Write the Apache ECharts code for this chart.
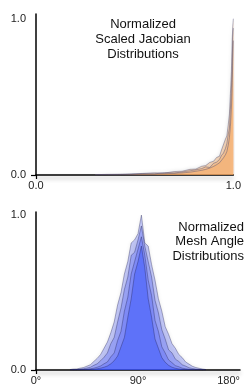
<!DOCTYPE html>
<html>
<head>
<meta charset="utf-8">
<script src="https://cdn.jsdelivr.net/npm/echarts@6/dist/echarts.min.js"></script>
<style>
  html, body { margin: 0; padding: 0; background: #fff; }
  #chart { width: 244px; height: 391px; }
</style>
</head>
<body>
<div id="chart"></div>
<script>
// scaled jacobian histograms (bin -> normalized count)
var jacobianBins = [0.30, 0.36, 0.42, 0.48, 0.54, 0.60, 0.65, 0.70, 0.74, 0.78, 0.81, 0.84, 0.86, 0.88,
  0.90, 0.915, 0.93, 0.94, 0.95, 0.96, 0.967, 0.974, 0.98, 0.985, 0.99, 0.994, 0.997, 1.0]
var jacobianA = [0.002, 0.004, 0.003, 0.007, 0.010, 0.014, 0.012, 0.022, 0.024, 0.036, 0.038, 0.056, 0.060, 0.080,
  0.088, 0.112, 0.12, 0.16, 0.17, 0.23, 0.25, 0.32, 0.39, 0.52, 0.66, 0.86, 0.95, 1.0]
var jacobianB = [0.001, 0.003, 0.005, 0.004, 0.008, 0.007, 0.015, 0.013, 0.019, 0.027, 0.033, 0.041, 0.052, 0.048,
  0.075, 0.082, 0.10, 0.125, 0.14, 0.17, 0.20, 0.26, 0.30, 0.42, 0.55, 0.70, 0.88, 0.94]
var jacobianC = [0.001, 0.002, 0.002, 0.004, 0.005, 0.006, 0.008, 0.011, 0.013, 0.018, 0.024, 0.030, 0.036, 0.044,
  0.055, 0.066, 0.078, 0.090, 0.110, 0.13, 0.15, 0.19, 0.24, 0.31, 0.42, 0.56, 0.74, 0.86]

// mesh angle histograms (degrees -> normalized count)
var angleBins = [30, 33, 36, 39, 42, 45, 48, 51, 54, 57, 60, 63, 66, 69, 72, 75, 78, 81, 84, 87,
  90, 93, 96, 99, 102, 105, 108, 111, 114, 117, 120, 123, 126, 129, 132, 135, 138, 141, 144, 147, 150]
var angleWide = [0.003, 0.006, 0.007, 0.012, 0.016, 0.025, 0.034, 0.055, 0.075, 0.10, 0.14, 0.18, 0.24, 0.31, 0.42, 0.50, 0.62, 0.70, 0.82, 0.84,
  0.88, 1.0, 0.82, 0.80, 0.68, 0.58, 0.46, 0.38, 0.28, 0.23, 0.17, 0.14, 0.10, 0.08, 0.052, 0.038, 0.024, 0.016, 0.011, 0.006, 0.003]
var angleMid = [0, 0.002, 0.003, 0.006, 0.008, 0.013, 0.018, 0.030, 0.040, 0.060, 0.082, 0.11, 0.17, 0.21, 0.31, 0.40, 0.52, 0.60, 0.74, 0.76,
  0.84, 0.93, 0.80, 0.70, 0.60, 0.45, 0.37, 0.26, 0.20, 0.13, 0.11, 0.07, 0.055, 0.034, 0.025, 0.015, 0.010, 0.006, 0.004, 0.002, 0]
var angleNarrow = [0, 0, 0.001, 0.002, 0.003, 0.005, 0.008, 0.012, 0.018, 0.026, 0.040, 0.052, 0.085, 0.11, 0.19, 0.25, 0.38, 0.47, 0.62, 0.70,
  0.78, 0.86, 0.74, 0.58, 0.48, 0.32, 0.25, 0.15, 0.11, 0.065, 0.047, 0.028, 0.021, 0.012, 0.008, 0.005, 0.003, 0.002, 0.001, 0, 0]
var angleCore = [0, 0, 0, 0, 0.001, 0.002, 0.003, 0.005, 0.008, 0.012, 0.018, 0.026, 0.04, 0.06, 0.09, 0.15, 0.21, 0.34, 0.46, 0.62,
  0.70, 0.80, 0.66, 0.46, 0.34, 0.20, 0.14, 0.08, 0.05, 0.03, 0.018, 0.011, 0.007, 0.004, 0.002, 0.001, 0, 0, 0, 0, 0]

var jacobianTicks = [0, 1]
var angleTicks = [0, 90, 180]

var font = 'Liberation Sans, Arial, sans-serif'

function pairs(xs, ys) {
  return xs.map(function(x, i) { return [x, ys[i]] })
}

function hist(name, idx, xs, ys, fill, stroke, shadow) {
  return {
    name: name,
    type: 'line',
    xAxisIndex: idx,
    yAxisIndex: idx,
    symbol: 'none',
    silent: true,
    animation: false,
    data: pairs(xs, ys),
    lineStyle: { color: stroke, width: 0.7 },
    areaStyle: {
      color: fill,
      shadowBlur: shadow ? 4 : 0,
      shadowColor: 'rgba(0,0,0,0.35)'
    }
  }
}

function xAxis(idx, max, ticks, fmt) {
  return {
    type: 'value',
    gridIndex: idx,
    min: 0,
    max: max,
    splitLine: { show: false },
    axisLine: {
      lineStyle: { color: '#000', width: 1.5, shadowColor: 'rgba(0,0,0,0.3)', shadowBlur: 4, shadowOffsetY: 3 }
    },
    axisTick: { customValues: [0], length: 4, lineStyle: { color: '#000', width: 1.2 } },
    axisLabel: {
      customValues: ticks,
      formatter: fmt,
      color: '#222',
      fontSize: 11,
      fontFamily: font,
      margin: 5,
      alignMaxLabel: idx === 1 ? 'right' : null
    }
  }
}

function yAxis(idx, max) {
  return {
    type: 'value',
    gridIndex: idx,
    min: 0,
    max: max,
    splitLine: { show: false },
    axisLine: { show: true, lineStyle: { color: '#000', width: 1.5 } },
    axisTick: { customValues: [0], length: 5, lineStyle: { color: '#000', width: 1.2 } },
    axisLabel: {
      customValues: [0, 1],
      formatter: function(v) { return v.toFixed(1) },
      color: '#222',
      fontSize: 11,
      fontFamily: font,
      margin: 10
    }
  }
}

var chart = echarts.init(document.getElementById('chart'), null, { renderer: 'canvas' })

var orangeFill = 'rgba(250,170,95,0.55)'
var orangeLine = 'rgba(70,70,110,0.6)'
var blueFill = 'rgba(60,78,255,0.38)'
var blueLine = 'rgba(30,30,80,0.5)'

chart.setOption({
  backgroundColor: '#fff',
  title: [{
    text: 'Normalized\nScaled Jacobian\nDistributions',
    left: 138,
    top: 12,
    textAlign: 'center',
    textStyle: { fontSize: 13, lineHeight: 15, fontWeight: 'normal', color: '#111', fontFamily: font }
  }, {
    text: 'Normalized\nMesh Angle\nDistributions',
    left: 239,
    top: 215,
    textAlign: 'right',
    textStyle: { fontSize: 13, lineHeight: 14.5, fontWeight: 'normal', color: '#111', fontFamily: font }
  }],
  grid: [
    { left: 36, right: 4, top: 14, height: 161 },
    { left: 36, right: 4, top: 212, height: 158 }
  ],
  xAxis: [
    xAxis(0, 1, jacobianTicks, function(v) { return v.toFixed(1) }),
    xAxis(1, 180, angleTicks, function(v) { return v + '°' })
  ],
  yAxis: [yAxis(0, 1.03), yAxis(1, 1.02)],
  series: [
    hist('jacA', 0, jacobianBins, jacobianA, orangeFill, orangeLine, true),
    hist('jacB', 0, jacobianBins, jacobianB, orangeFill, orangeLine, false),
    hist('jacC', 0, jacobianBins, jacobianC, orangeFill, orangeLine, false),
    hist('angWide', 1, angleBins, angleWide, blueFill, blueLine, true),
    hist('angMid', 1, angleBins, angleMid, blueFill, blueLine, false),
    hist('angNarrow', 1, angleBins, angleNarrow, blueFill, blueLine, false),
    hist('angCore', 1, angleBins, angleCore, 'rgba(50,80,255,0.6)', blueLine, false)
  ]
})
</script>
</body>
</html>
